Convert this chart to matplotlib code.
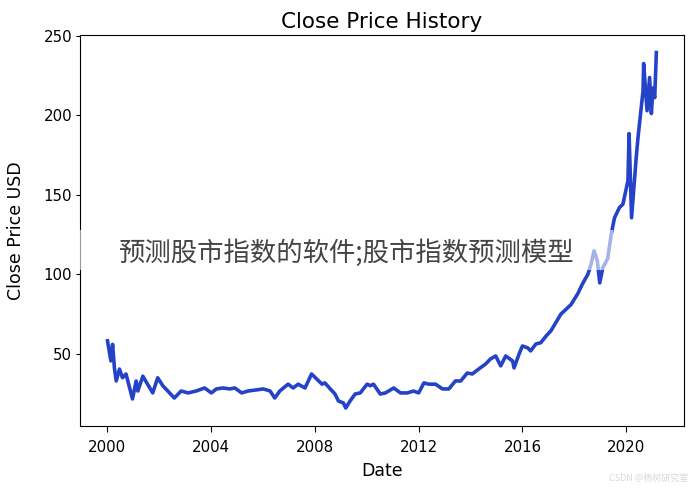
import pandas as pd
import matplotlib
matplotlib.use("Agg")
from matplotlib import pyplot as plt
from matplotlib.patches import Rectangle

# close prices
dates = ['2000-01-03', '2000-02-20', '2000-03-15', '2000-04-10', '2000-05-05',
         '2000-06-20', '2000-08-01', '2000-09-20', '2000-12-20', '2001-02-10',
         '2001-03-05', '2001-05-15', '2001-07-20', '2001-10-01', '2001-12-10',
         '2002-02-20', '2002-05-01', '2002-08-01', '2002-11-05', '2003-02-10',
         '2003-06-05', '2003-10-01', '2004-01-05', '2004-03-15', '2004-06-15',
         '2004-09-20', '2004-12-01', '2005-03-05', '2005-06-05', '2005-10-01',
         '2006-01-05', '2006-04-10', '2006-06-15', '2006-08-25', '2006-12-20',
         '2007-03-01', '2007-05-10', '2007-08-15', '2007-11-15', '2008-01-25',
         '2008-04-10', '2008-05-20', '2008-08-05', '2008-10-10', '2008-11-28',
         '2009-02-05', '2009-03-10', '2009-05-10', '2009-07-20', '2009-10-01',
         '2010-01-05', '2010-02-20', '2010-04-05', '2010-07-10', '2010-09-20',
         '2011-01-15', '2011-04-20', '2011-07-25', '2011-10-20', '2012-01-01',
         '2012-03-15', '2012-05-20', '2012-08-25', '2012-11-30', '2013-03-01',
         '2013-06-01', '2013-08-15', '2013-11-15', '2014-01-25', '2014-04-25',
         '2014-08-01', '2014-10-10', '2014-12-20', '2015-03-01', '2015-05-10',
         '2015-08-15', '2015-09-05', '2015-11-15', '2016-01-01', '2016-03-15',
         '2016-04-25', '2016-07-10', '2016-09-15', '2016-11-30', '2017-02-05',
         '2017-06-25', '2017-11-15', '2018-02-20', '2018-04-25', '2018-07-10',
         '2018-08-25', '2018-10-05', '2018-11-20', '2018-12-24', '2019-02-05',
         '2019-04-15', '2019-06-05', '2019-07-20', '2019-09-28', '2019-11-15',
         '2020-01-25', '2020-02-10', '2020-03-16', '2020-05-20', '2020-06-15',
         '2020-07-30', '2020-08-25', '2020-09-02', '2020-10-20', '2020-11-25',
         '2020-12-20', '2021-01-10', '2021-02-05', '2021-02-28']
prices = [58.2, 45.6, 56.0, 41.0, 33.0,
          40.5, 35.0, 37.4, 21.7, 33.0,
          26.7, 36.0, 31.0, 25.5, 35.0,
          30.0, 26.7, 22.3, 26.7, 25.5,
          26.7, 28.6, 25.5, 28.0, 28.6,
          28.0, 28.6, 25.5, 26.7, 27.4,
          28.0, 26.7, 22.3, 26.7, 31.0,
          28.6, 31.0, 28.6, 37.4, 34.3,
          31.0, 31.8, 28.0, 24.8, 20.4,
          19.2, 16.0, 20.4, 24.8, 25.5,
          31.0, 30.0, 31.0, 24.8, 25.5,
          28.6, 25.5, 25.5, 26.7, 25.5,
          31.8, 31.0, 31.0, 28.0, 28.0,
          33.0, 33.0, 38.0, 37.4, 40.5,
          43.7, 46.9, 48.7, 42.5, 48.7,
          45.6, 41.2, 50.0, 55.0, 53.8,
          51.9, 56.3, 57.0, 61.3, 64.5,
          75.0, 81.0, 88.0, 94.0, 100.0,
          106.6, 114.8, 108.5, 94.6, 104.0,
          110.0, 125.5, 135.5, 142.0, 144.0,
          158.8, 188.4, 135.5, 173.0, 186.0,
          204.7, 215.4, 232.4, 202.8, 223.6,
          201.0, 217.0, 211.0, 239.3]

df = pd.DataFrame({'Date': pd.to_datetime(dates), 'Close': prices})

fig = plt.figure(figsize=(6.9, 4.9), dpi=100)
ax = fig.add_axes([0.116, 0.131, 0.875, 0.798])
ax.plot(df['Date'], df['Close'], color='#2443c8', linewidth=2.6)
ax.set_title('Close Price History', fontsize=15.5, pad=5)
ax.set_xlabel('Date', fontsize=12.5, labelpad=5)
ax.set_ylabel('Close Price USD', fontsize=12.5, labelpad=13)
ax.tick_params(axis='both', labelsize=10.8)
ax.tick_params(axis='x', length=4.5, pad=6)
ax.tick_params(axis='y', length=3.2, pad=2.5)

# semi-transparent caption strip laid over the chart
fig.patches.append(Rectangle((0.113, 0.449), 0.775, 0.082, transform=fig.transFigure,
                             facecolor='white', alpha=0.6, edgecolor='none', zorder=5))
fig.text(0.502, 0.484, '预测股市指数的软件;股市指数预测模型', ha='center', va='center',
         fontsize=19, color='#444444', family=['Noto Sans CJK SC', 'DejaVu Sans'], zorder=6)
fig.text(0.997, 0.015, 'CSDN @杨树研究室', ha='right', va='bottom', fontsize=6.5,
         color='#d8d8d8', family=['Noto Sans CJK SC', 'DejaVu Sans'])

fig.savefig('out.png', dpi=100)
